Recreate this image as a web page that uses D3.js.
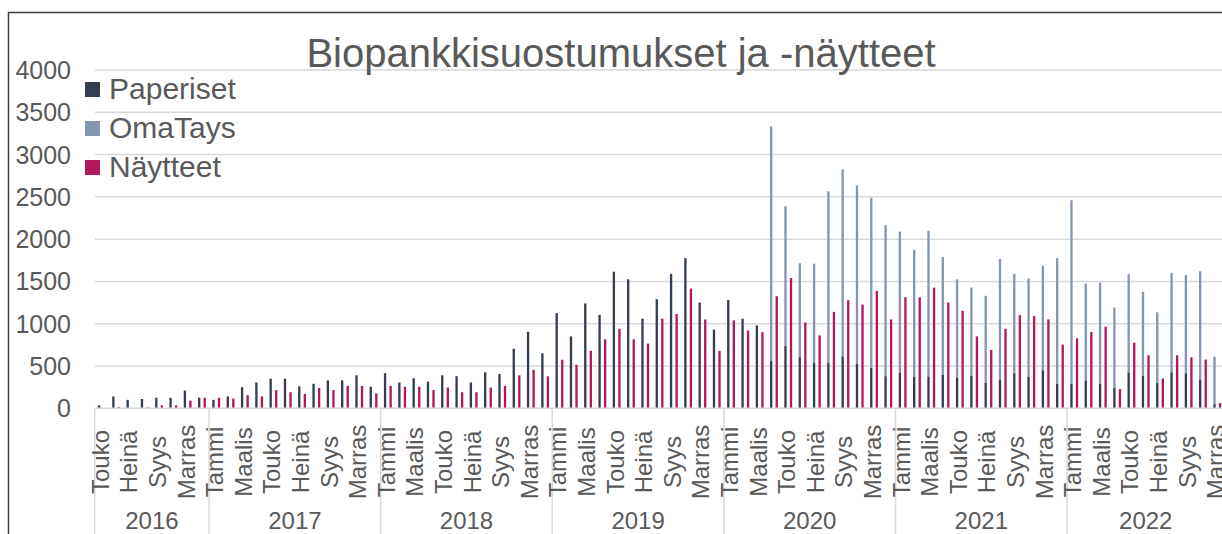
<!DOCTYPE html>
<html>
<head>
<meta charset="utf-8">
<script src="https://cdn.jsdelivr.net/npm/d3@7"></script>
<style>
  body { margin: 0; background: #fff; }
  svg { display: block; font-family: "Liberation Sans", Arial, sans-serif; }
  .grid line { stroke: #d9d9d9; stroke-width: 1.5; }
  .tick-label, .legend-label, .title { fill: #595959; }
</style>
</head>
<body>
<div id="chart"></div>
<script>
// Monthly consents & samples, May 2016 - Nov 2022
const years = ["2016", "2017", "2018", "2019", "2020", "2021", "2022"];
const monthsPerYear = [8, 12, 12, 12, 12, 12, 11];
const firstMonth = 4; // May 2016 (0 = Tammi)
const monthNames = ["Tammi", "Helmi", "Maalis", "Huhti", "Touko", "Kesä",
  "Heinä", "Elo", "Syys", "Loka", "Marras", "Joulu"];

const paperiset = [
  35, 140, 100, 110, 125, 125, 210, 125,
  100, 140, 250, 305, 350, 350, 260, 290, 330, 330, 390, 255,
  415, 305, 355, 315, 390, 380, 305, 425, 405, 705, 905, 650,
  1125, 850, 1240, 1105, 1615, 1525, 1060, 1290, 1590, 1775, 1250, 930,
  1280, 1060, 980, 565, 740, 605, 540, 540, 615, 525, 480, 380,
  425, 370, 378, 400, 365, 388, 300, 340, 415, 376, 450, 290,
  290, 330, 290, 240, 425, 388, 300, 427, 415, 340, 50
];
const omaTays = [
  0, 0, 0, 0, 0, 0, 0, 0,
  0, 0, 0, 0, 0, 0, 0, 0, 0, 0, 0, 0,
  0, 0, 0, 0, 0, 0, 0, 0, 0, 0, 0, 0,
  0, 0, 0, 0, 0, 0, 0, 0, 0, 0, 0, 0,
  0, 0, 0, 2770, 1650, 1110, 1170, 2025, 2210, 2110, 2010, 1785,
  1665, 1505, 1720, 1390, 1160, 1040, 1030, 1425, 1175, 1160, 1235, 1485,
  2170, 1145, 1195, 950, 1160, 990, 835, 1175, 1160, 1280, 560
];
const naytteet = [
  0, 15, 0, 12, 35, 35, 90, 125,
  125, 115, 155, 140, 215, 190, 170, 240, 215, 265, 265, 175,
  265, 255, 255, 215, 245, 190, 190, 245, 265, 390, 455, 378,
  575, 515, 680, 815, 940, 815, 765, 1060, 1115, 1415, 1050, 678,
  1040, 920, 900, 1325, 1540, 1015, 862, 1140, 1278, 1227, 1388, 1051,
  1313, 1313, 1427, 1251, 1153, 851, 690, 941, 1102, 1090, 1051, 753,
  827, 902, 965, 227, 776, 627, 353, 627, 604, 576, 62
];
const yTicks = [0, 500, 1000, 1500, 2000, 2500, 3000, 3500, 4000];

const seriesNames = ["Paperiset", "OmaTays", "Näytteet"];
const colors = { Paperiset: "#333f50", OmaTays: "#8497b0", "Näytteet": "#b3185f" };

// build month rows
const rows = [];
let m = firstMonth;
years.forEach((yr, yi) => {
  for (let k = 0; k < monthsPerYear[yi]; k++) {
    const i = rows.length;
    rows.push({
      key: yr + "-" + (m + 1),
      year: yr,
      month: monthNames[m],
      Paperiset: paperiset[i],
      OmaTays: omaTays[i],
      "Näytteet": naytteet[i]
    });
    m = (m + 1) % 12;
  }
  m = 0;
});

const width = 1222, height = 534;
const plotLeft = 94.7, step = 14.3;
const plotRight = plotLeft + step * rows.length;
const plotTop = 70, plotBottom = 408.3;

const svg = d3.select("#chart").append("svg")
  .attr("width", width).attr("height", height);

// chart area border (cut off on right/bottom like the source)
svg.append("rect")
  .attr("x", 8.5).attr("y", 12.5)
  .attr("width", 1300).attr("height", 600)
  .attr("fill", "none").attr("stroke", "#3f3f3f").attr("stroke-width", 1.5);

const x = d3.scaleBand().domain(rows.map(d => d.key)).range([plotLeft, plotRight]);
const xSub = d3.scaleBand().domain(["stack", "naytteet"]).range([0, x.bandwidth()]).padding(0.58);
const y = d3.scaleLinear().domain([0, 4000]).range([plotBottom, plotTop]);

// gridlines
svg.append("g").attr("class", "grid")
  .selectAll("line").data(yTicks.slice(1)).join("line")
  .attr("x1", 95).attr("x2", width)
  .attr("y1", d => y(d)).attr("y2", d => y(d));

// y axis labels
svg.append("g").selectAll("text").data(yTicks).join("text")
  .attr("class", "tick-label")
  .attr("x", 71).attr("y", d => y(d)).attr("dy", "0.36em")
  .attr("text-anchor", "end").attr("font-size", 25)
  .text(d => d);

// stacked bars: Paperiset + OmaTays
const stack = d3.stack().keys(["Paperiset", "OmaTays"]);
const stacked = stack(rows);
svg.append("g").selectAll("g").data(stacked).join("g")
  .attr("fill", s => colors[s.key])
  .selectAll("rect").data(s => s.filter(d => d[1] > d[0])).join("rect")
  .attr("x", d => x(d.data.key) + xSub("stack"))
  .attr("width", xSub.bandwidth())
  .attr("y", d => y(d[1]))
  .attr("height", d => y(d[0]) - y(d[1]));

// Näytteet bars
svg.append("g").attr("fill", colors["Näytteet"])
  .selectAll("rect").data(rows.filter(d => d["Näytteet"] > 0)).join("rect")
  .attr("x", d => x(d.key) + xSub("naytteet"))
  .attr("width", xSub.bandwidth())
  .attr("y", d => y(d["Näytteet"]))
  .attr("height", d => plotBottom - y(d["Näytteet"]));

// x axis line
svg.append("line")
  .attr("x1", plotLeft).attr("x2", width)
  .attr("y1", plotBottom).attr("y2", plotBottom)
  .attr("stroke", "#d9d9d9").attr("stroke-width", 1.5);

// year separators
const yearStarts = [];
let acc = 0;
years.forEach((yr, i) => { yearStarts.push({ year: yr, start: acc, end: acc + monthsPerYear[i] }); acc += monthsPerYear[i]; });
svg.append("g").selectAll("line").data(yearStarts).join("line")
  .attr("x1", d => x(rows[d.start].key)).attr("x2", d => x(rows[d.start].key))
  .attr("y1", plotBottom).attr("y2", height)
  .attr("stroke", "#d9d9d9").attr("stroke-width", 1.5);

// month labels (every other month), rotated and centred in the row
svg.append("g").selectAll("text").data(rows.filter((d, i) => i % 2 === 0)).join("text")
  .attr("class", "tick-label")
  .attr("font-size", 24)
  .attr("text-anchor", "middle")
  .attr("transform", d => `translate(${x(d.key) + x.bandwidth() / 2 + 7},${462}) rotate(-90)`)
  .text(d => d.month);

// year labels
svg.append("g").selectAll("text").data(yearStarts).join("text")
  .attr("class", "tick-label")
  .attr("font-size", 24)
  .attr("text-anchor", "middle")
  .attr("x", d => (x(rows[d.start].key) + x(rows[d.end - 1].key) + x.bandwidth()) / 2)
  .attr("y", 529)
  .text(d => d.year);

// title
svg.append("text").attr("class", "title")
  .attr("x", 621).attr("y", 66.5)
  .attr("text-anchor", "middle").attr("font-size", 40)
  .text("Biopankkisuostumukset ja -näytteet");

// legend
const legend = svg.append("g").selectAll("g").data(seriesNames).join("g")
  .attr("transform", (d, i) => `translate(85,${82 + i * 39})`);
legend.append("rect").attr("width", 15).attr("height", 15).attr("fill", d => colors[d]);
legend.append("text").attr("class", "legend-label")
  .attr("x", 24).attr("y", 17).attr("font-size", 30)
  .text(d => d);
</script>
</body>
</html>
